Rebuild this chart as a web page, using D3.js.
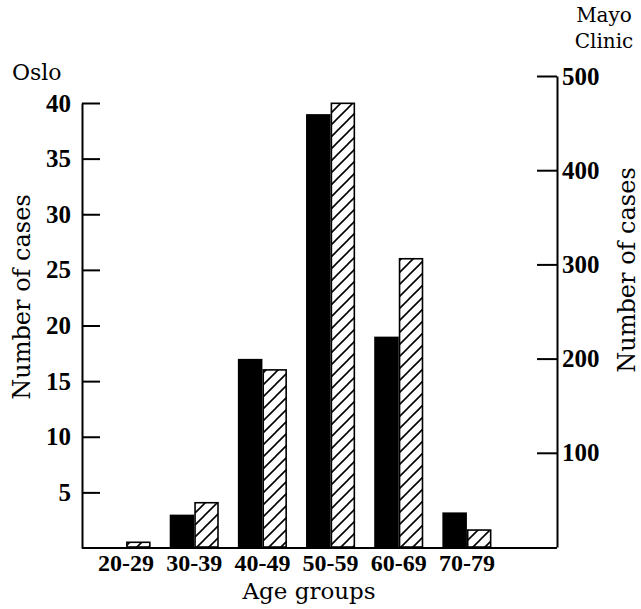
<!DOCTYPE html>
<html>
<head>
<meta charset="utf-8">
<script src="https://cdn.jsdelivr.net/npm/d3@7"></script>
<style>
  body { margin: 0; background: #fff; }
  .num { font-family: "Liberation Serif", serif; font-weight: bold; }
  .word { font-family: "DejaVu Serif", serif; }
</style>
</head>
<body>
<svg id="chart" width="641" height="609"></svg>
<script>
// age groups and counts
var ageGroups = ["20-29", "30-39", "40-49", "50-59", "60-69", "70-79"];
var osloCases = [0, 3, 17, 39, 19, 3.2];       // left axis
var mayoCases = [5, 47, 188, 471, 306, 18];    // right axis
var osloTicks = [5, 10, 15, 20, 25, 30, 35, 40];
var mayoTicks = [100, 200, 300, 400, 500];

var dd = {
    width: 641,
    height: 609,
    axisLeftX: 82,
    axisRightX: 557,
    base: 548
}

var svg = d3.select("#chart")

var defs = svg.append("defs")
var pat = defs.append("pattern")
    .attr("id", "hatch")
    .attr("patternUnits", "userSpaceOnUse")
    .attr("width", 12)
    .attr("height", 12)
pat.append("path")
    .attr("d", "M-3,3 L3,-3 M0,12 L12,0 M9,15 L15,9")
    .attr("stroke", "#000")
    .attr("stroke-width", 1.6)

var xScale = d3.scaleBand().domain(ageGroups).range([92, 501])
    .paddingInner(0.28).paddingOuter(0.14)
var xSub = d3.scaleBand().domain(["oslo", "mayo"]).range([0, xScale.bandwidth()])

var yLeft = d3.scaleLinear().domain([0, 40]).range([dd.base, 103])
var yRight = d3.scaleLinear().domain([0, 500]).range([dd.base - 1, 76])

var rows = ageGroups.map(function(g, i) {
    return { group: g, oslo: osloCases[i], mayo: mayoCases[i] }
})

// Oslo bars, solid black
svg.append("g").selectAll("rect")
    .data(rows.filter(function(d) { return d.oslo > 0 }))
    .enter().append("rect")
    .attr("x", function(d) { return xScale(d.group) + xSub("oslo") })
    .attr("y", function(d) { return yLeft(d.oslo) })
    .attr("width", xSub.bandwidth())
    .attr("height", function(d) { return yLeft(0) - yLeft(d.oslo) })
    .attr("fill", "#000")

// Mayo bars, hatched
svg.append("g").selectAll("rect")
    .data(rows)
    .enter().append("rect")
    .attr("x", function(d) { return xScale(d.group) + xSub("mayo") + 0.8 })
    .attr("y", function(d) { return yRight(d.mayo) })
    .attr("width", xSub.bandwidth() - 1.6)
    .attr("height", function(d) { return yRight(0) - yRight(d.mayo) })
    .attr("fill", "url(#hatch)")
    .attr("stroke", "#000")
    .attr("stroke-width", 1.6)

// left axis, ticks pointing inward
var yAxisL = svg.append("g")
    .attr("transform", "translate(" + dd.axisLeftX + ",0)")
    .call(d3.axisLeft(yLeft).tickValues(osloTicks).tickSizeInner(-18).tickSizeOuter(0).tickPadding(11))
yAxisL.selectAll("path, line").attr("stroke", "#000").attr("stroke-width", 2)
yAxisL.selectAll("text").attr("class", "num").style("font-size", "25px").attr("fill", "#000")

// right axis, ticks pointing inward
var yAxisR = svg.append("g")
    .attr("transform", "translate(" + dd.axisRightX + ",0)")
    .call(d3.axisRight(yRight).tickValues(mayoTicks).tickSizeInner(-20).tickSizeOuter(0).tickPadding(5))
yAxisR.selectAll("path, line").attr("stroke", "#000").attr("stroke-width", 2)
yAxisR.selectAll("text").attr("class", "num").style("font-size", "25px").attr("fill", "#000")

// baseline
svg.append("line")
    .attr("x1", dd.axisLeftX).attr("x2", dd.axisRightX)
    .attr("y1", yLeft(0)).attr("y2", yLeft(0))
    .attr("stroke", "#000").attr("stroke-width", 2.2)

// category labels
var xAxis = svg.append("g")
    .attr("transform", "translate(0," + yLeft(0) + ")")
    .call(d3.axisBottom(xScale).tickSize(0).tickPadding(6))
xAxis.select(".domain").remove()
xAxis.selectAll("text").attr("class", "num").style("font-size", "24px").attr("fill", "#000")

// titles
svg.append("text").attr("class", "word")
    .attr("x", 309).attr("y", 599)
    .attr("text-anchor", "middle").style("font-size", "23px")
    .text("Age groups")

svg.append("text").attr("class", "word")
    .attr("transform", "translate(30,297) rotate(-90)")
    .attr("text-anchor", "middle").style("font-size", "24px")
    .text("Number of cases")

svg.append("text").attr("class", "word")
    .attr("transform", "translate(635,270) rotate(-90)")
    .attr("text-anchor", "middle").style("font-size", "24px")
    .text("Number of cases")

svg.append("text").attr("class", "word")
    .attr("x", 12).attr("y", 80).style("font-size", "22px")
    .text("Oslo")

svg.append("text").attr("class", "word")
    .attr("x", 604).attr("y", 22).attr("text-anchor", "middle").style("font-size", "20px")
    .text("Mayo")
svg.append("text").attr("class", "word")
    .attr("x", 604).attr("y", 48).attr("text-anchor", "middle").style("font-size", "20px")
    .text("Clinic")
</script>
</body>
</html>
